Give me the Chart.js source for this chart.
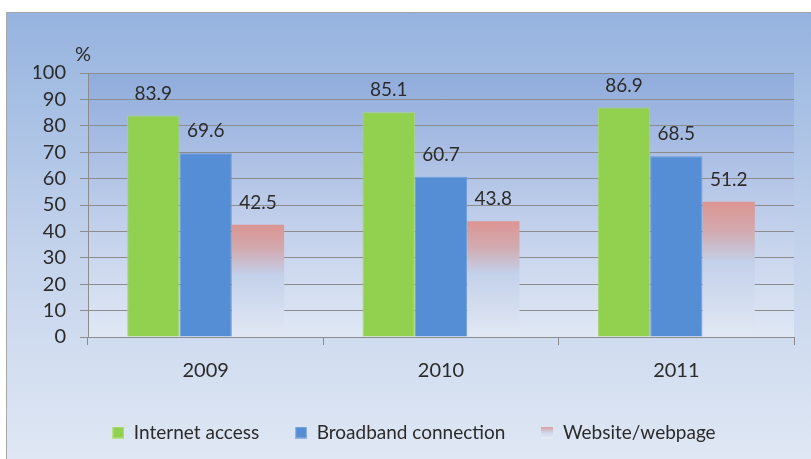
<!DOCTYPE html>
<html><head><meta charset="utf-8">
<script src="https://cdn.jsdelivr.net/npm/chart.js@4"></script>
<style>html,body{margin:0;padding:0;background:#fff}#wrap{width:811px;height:459px}</style>
</head><body><div id="wrap"><canvas id="c" width="811" height="459"></canvas></div>
<script>
const categories = ['2009', '2010', '2011'];
const internetAccess = [83.9, 85.1, 86.9];
const broadband = [69.6, 60.7, 68.5];
const website = [42.5, 43.8, 51.2];
const seriesNames = ['Internet access', 'Broadband connection', 'Website/webpage'];
const yTicks = [0, 10, 20, 30, 40, 50, 60, 70, 80, 90, 100];

const FONT = 'Lato, "Open Sans", sans-serif';
const TXT = '#2b2b2b';

function websiteFill(ctx) {
  const chart = ctx.chart;
  const ys = chart.scales && chart.scales.y;
  if (!chart.chartArea || !ys || ctx.raw === undefined) return '#da9694';
  const top = ys.getPixelForValue(ctx.raw);
  const bottom = ys.getPixelForValue(0);
  if (!isFinite(top) || !isFinite(bottom) || bottom <= top) return '#da9694';
  const g = chart.ctx.createLinearGradient(0, top, 0, bottom);
  g.addColorStop(0, '#dc9592');
  g.addColorStop(0.22, '#d2aab0');
  g.addColorStop(0.45, '#c3d1ea');
  g.addColorStop(1, '#e2e8f4');
  return g;
}

const icon = document.createElement('canvas');
icon.width = 12; icon.height = 12;
(function(){
  const c = icon.getContext('2d');
  const g = c.createLinearGradient(0, 0, 0, 12);
  g.addColorStop(0, '#e09a96');
  g.addColorStop(0.5, '#cdd6ea');
  g.addColorStop(1, '#e6ecf6');
  c.fillStyle = g; c.fillRect(0, 0, 12, 12);
})();
function solidIcon(col) {
  const cv = document.createElement('canvas');
  cv.width = 12; cv.height = 12;
  const c = cv.getContext('2d');
  c.fillStyle = col; c.fillRect(0, 0, 12, 12);
  c.strokeStyle = 'rgba(255,255,255,0.35)'; c.strokeRect(0.5, 0.5, 11, 11);
  return cv;
}
const legendIcons = [solidIcon('#92d050'), solidIcon('#558ed5'), icon];

const bgPlugin = {
  id: 'bg',
  beforeDraw(chart) {
    const { ctx, chartArea: a } = chart;
    ctx.save();
    let g = ctx.createLinearGradient(0, 12, 0, 459);
    g.addColorStop(0, '#95b3df');
    g.addColorStop(0.55, '#c5d4ec');
    g.addColorStop(1, '#dfe7f4');
    ctx.fillStyle = g;
    ctx.fillRect(6, 12, 811 - 6, 459 - 12);
    g = ctx.createLinearGradient(0, a.top, 0, a.bottom);
    g.addColorStop(0, '#90acdc');
    g.addColorStop(0.5, '#bccbe9');
    g.addColorStop(1, '#e0e8f5');
    ctx.fillStyle = g;
    ctx.fillRect(a.left, a.top, a.right - a.left, a.bottom - a.top);
    ctx.strokeStyle = '#a6a6a6';
    ctx.lineWidth = 1;
    ctx.beginPath();
    ctx.moveTo(6.5, 459); ctx.lineTo(6.5, 12.5); ctx.lineTo(811, 12.5);
    ctx.stroke();
    ctx.restore();
  },
  afterDraw(chart) {
    const { ctx } = chart;
    ctx.save();
    ctx.fillStyle = TXT;
    ctx.font = '20px ' + FONT;
    ctx.textAlign = 'center';
    ctx.textBaseline = 'middle';
    ctx.fillText('%', 83, 55);
    ctx.font = '19px ' + FONT;
    chart.data.datasets.forEach((ds, i) => {
      const meta = chart.getDatasetMeta(i);
      meta.data.forEach((bar, j) => {
        ctx.fillText(ds.data[j].toFixed(1), bar.x, bar.y - 22);
      });
    });
    ctx.restore();
  }
};

new Chart(document.getElementById('c'), {
  type: 'bar',
  data: {
    labels: categories,
    datasets: [
      { label: seriesNames[0], data: internetAccess, backgroundColor: '#92d050', borderColor: '#a6d86e', borderWidth: 1 },
      { label: seriesNames[1], data: broadband, backgroundColor: '#558ed5', borderColor: '#6b9ddb', borderWidth: 1 },
      { label: seriesNames[2], data: website, backgroundColor: websiteFill, borderWidth: 0 }
    ]
  },
  options: {
    responsive: false,
    animation: false,
    devicePixelRatio: 1,
    layout: { padding: { left: 34, top: 73, right: 17, bottom: 7 } },
    datasets: { bar: { categoryPercentage: 0.667, barPercentage: 1.0 } },
    scales: {
      x: {
        offset: true,
        afterFit(s) { s.height = 50; },
        grid: { display: true, drawOnChartArea: false, drawTicks: true, tickLength: 8, color: '#8c8c8c', offset: true },
        border: { display: true, color: '#8c8c8c' },
        ticks: { color: TXT, font: { family: FONT, size: 20 }, padding: 14 }
      },
      y: {
        min: 0, max: 100,
        afterBuildTicks(s) { s.ticks = yTicks.map(v => ({ value: v })); },
        afterFit(s) { s.width = 54; },
        grid: { color: '#8c8c8c', tickLength: 8, drawTicks: true },
        border: { display: true, color: '#8c8c8c' },
        ticks: { color: TXT, font: { family: FONT, size: 20 }, padding: 14, autoSkip: false }
      }
    },
    plugins: {
      tooltip: { enabled: false },
      legend: {
        position: 'bottom',
        labels: {
          color: TXT,
          font: { family: FONT, size: 19 },
          usePointStyle: true,
          boxWidth: 12,
          boxHeight: 12,
          padding: 36,
          generateLabels(chart) {
            return chart.data.datasets.map((ds, i) => ({
              text: ds.label, pointStyle: legendIcons[i], datasetIndex: i,
              fontColor: TXT, hidden: false, lineWidth: 0, strokeStyle: 'transparent'
            }));
          }
        }
      }
    }
  },
  plugins: [bgPlugin]
});
</script>
</body></html>
